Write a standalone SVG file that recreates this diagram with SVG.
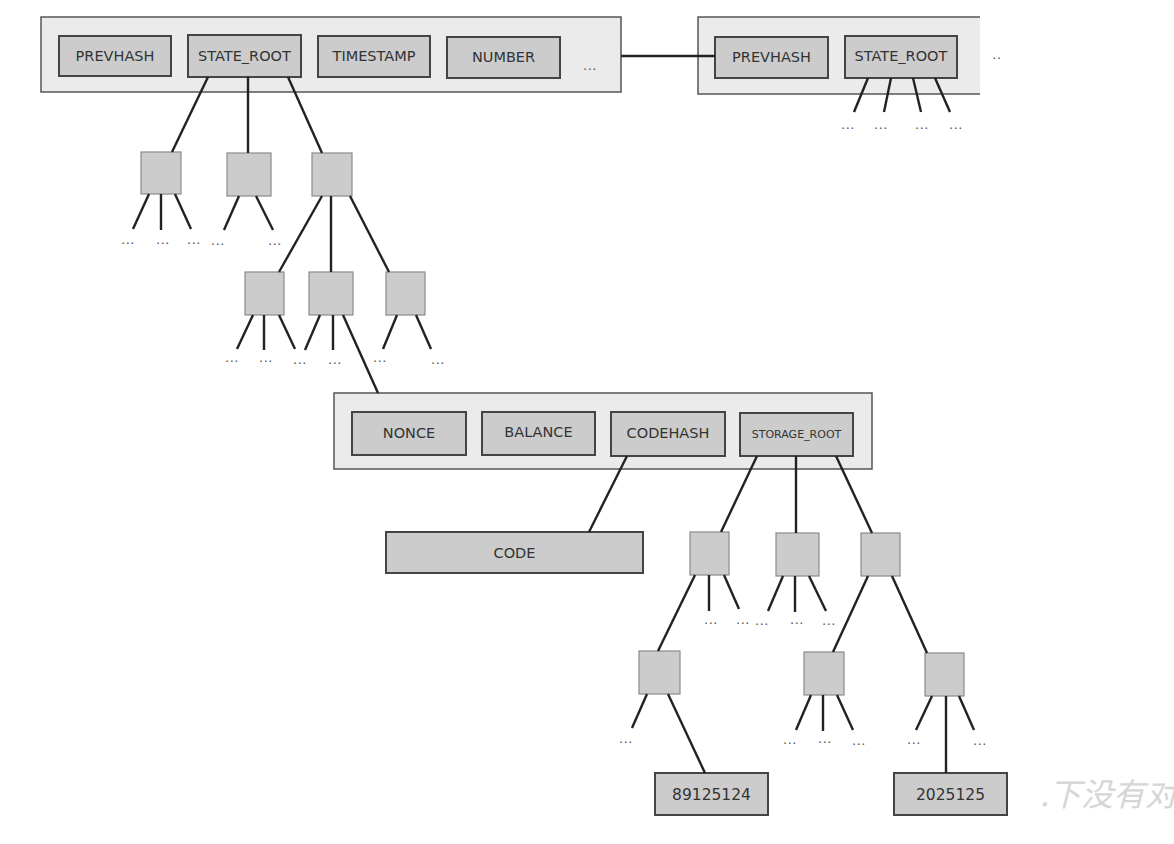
<svg xmlns="http://www.w3.org/2000/svg" width="1174" height="844" viewBox="0 0 1174 844">
<style>
.outer{fill:#ebebeb;stroke:#555;stroke-width:1.5}
.field{fill:#cccccc;stroke:#444;stroke-width:2}
.node{fill:#cccccc;stroke:#8a8a8a;stroke-width:1.2}
.lbl{font-family:"DejaVu Sans",sans-serif;font-size:14.5px;fill:#333;text-anchor:middle}
.small{font-size:11px}
.num{font-size:15.5px}
.dots{font-family:"DejaVu Sans",sans-serif;font-size:13px;fill:#555;text-anchor:middle;letter-spacing:0.5px}
#connectors line{stroke:#222;stroke-width:2.4;stroke-linecap:butt}
</style>
<rect width="1174" height="844" fill="#ffffff"/>

<g id="block1">
  <rect class="outer" x="41" y="17" width="580" height="75"/>
  <rect class="field" x="59" y="36" width="112" height="40"/>
  <text class="lbl" x="115" y="61">PREVHASH</text>
  <rect class="field" x="188" y="35" width="113" height="42"/>
  <text class="lbl" x="244.5" y="61">STATE_ROOT</text>
  <rect class="field" x="318" y="36" width="112" height="41"/>
  <text class="lbl" x="374" y="61">TIMESTAMP</text>
  <rect class="field" x="447" y="37" width="113" height="41"/>
  <text class="lbl" x="503.5" y="62">NUMBER</text>
  <text class="dots" x="590" y="70">...</text>
</g>

<g id="block2">
  <path d="M980,17 H698 V94 H980 Z" fill="#ebebeb" stroke="none"/>
  <path d="M980,17 H698 V94 H980" fill="none" stroke="#555" stroke-width="1.5"/>
  <rect class="field" x="715" y="37" width="113" height="41"/>
  <text class="lbl" x="771.5" y="62">PREVHASH</text>
  <rect class="field" x="845" y="36" width="112" height="42"/>
  <text class="lbl" x="901" y="61">STATE_ROOT</text>
  <text class="dots" x="997" y="59">..</text>
  <text class="dots" x="848" y="129">...</text>
  <text class="dots" x="881" y="129">...</text>
  <text class="dots" x="922" y="129">...</text>
  <text class="dots" x="956" y="129">...</text>
</g>

<g id="stateA">
  <rect class="node" x="141" y="152" width="40" height="42"/>
  <text class="dots" x="128" y="244">...</text>
  <text class="dots" x="163" y="244">...</text>
  <text class="dots" x="194" y="244">...</text>
</g>
<g id="stateB">
  <rect class="node" x="227" y="153" width="44" height="43"/>
  <text class="dots" x="218" y="245">...</text>
  <text class="dots" x="275" y="245">...</text>
</g>
<g id="stateC">
  <rect class="node" x="312" y="153" width="40" height="43"/>
</g>
<g id="stateD">
  <rect class="node" x="245" y="272" width="39" height="43"/>
  <text class="dots" x="232" y="362">...</text>
  <text class="dots" x="266" y="362">...</text>
  <text class="dots" x="300" y="364">...</text>
</g>
<g id="stateE">
  <rect class="node" x="309" y="272" width="44" height="43"/>
  <text class="dots" x="335" y="364">...</text>
</g>
<g id="stateF">
  <rect class="node" x="386" y="272" width="39" height="43"/>
  <text class="dots" x="380" y="362">...</text>
  <text class="dots" x="438" y="364">...</text>
</g>

<g id="account">
  <rect class="outer" x="334" y="393" width="538" height="76"/>
  <rect class="field" x="352" y="412" width="114" height="43"/>
  <text class="lbl" x="409" y="438">NONCE</text>
  <rect class="field" x="482" y="412" width="113" height="43"/>
  <text class="lbl" x="538.5" y="437">BALANCE</text>
  <rect class="field" x="611" y="412" width="114" height="44"/>
  <text class="lbl" x="668" y="438">CODEHASH</text>
  <rect class="field" x="740" y="413" width="113" height="43"/>
  <text class="lbl small" x="796.5" y="438">STORAGE_ROOT</text>
</g>

<g id="code">
  <rect class="field" x="386" y="532" width="257" height="41"/>
  <text class="lbl" x="514.5" y="558">CODE</text>
</g>

<g id="storageG">
  <rect class="node" x="690" y="532" width="39" height="43"/>
  <text class="dots" x="711" y="624">...</text>
  <text class="dots" x="743" y="624">...</text>
</g>
<g id="storageH">
  <rect class="node" x="776" y="533" width="43" height="43"/>
  <text class="dots" x="762" y="625">...</text>
  <text class="dots" x="797" y="624">...</text>
  <text class="dots" x="829" y="625">...</text>
</g>
<g id="storageI">
  <rect class="node" x="861" y="533" width="39" height="43"/>
</g>
<g id="storageJ">
  <rect class="node" x="639" y="651" width="41" height="43"/>
  <text class="dots" x="626" y="743">...</text>
</g>
<g id="storageK">
  <rect class="node" x="804" y="652" width="40" height="43"/>
  <text class="dots" x="790" y="744">...</text>
  <text class="dots" x="825" y="743">...</text>
  <text class="dots" x="859" y="745">...</text>
</g>
<g id="storageL">
  <rect class="node" x="925" y="653" width="39" height="43"/>
  <text class="dots" x="914" y="744">...</text>
  <text class="dots" x="980" y="745">...</text>
</g>

<g id="value1">
  <rect class="field" x="655" y="773" width="113" height="42"/>
  <text class="lbl num" x="711.5" y="800">89125124</text>
</g>
<g id="value2">
  <rect class="field" x="894" y="773" width="113" height="42"/>
  <text class="lbl num" x="950.5" y="800">2025125</text>
</g>

<g id="connectors">
  <line x1="621" y1="56" x2="715" y2="56"/>
  <line x1="868" y1="78" x2="854" y2="112"/>
  <line x1="891" y1="78" x2="884" y2="112"/>
  <line x1="913" y1="78" x2="921" y2="112"/>
  <line x1="935" y1="78" x2="950" y2="112"/>
  <line x1="208" y1="77" x2="172" y2="152"/>
  <line x1="248" y1="77" x2="248" y2="153"/>
  <line x1="288" y1="77" x2="322" y2="153"/>
  <line x1="149" y1="194" x2="133" y2="229"/>
  <line x1="161" y1="194" x2="161" y2="230"/>
  <line x1="175" y1="194" x2="191" y2="229"/>
  <line x1="239" y1="196" x2="224" y2="230"/>
  <line x1="256" y1="196" x2="273" y2="230"/>
  <line x1="322" y1="196" x2="279" y2="272"/>
  <line x1="331" y1="196" x2="331" y2="272"/>
  <line x1="350" y1="196" x2="389" y2="272"/>
  <line x1="253" y1="315" x2="237" y2="349"/>
  <line x1="264" y1="315" x2="264" y2="350"/>
  <line x1="279" y1="315" x2="295" y2="349"/>
  <line x1="320" y1="315" x2="305" y2="350"/>
  <line x1="333" y1="315" x2="333" y2="350"/>
  <line x1="343" y1="315" x2="378" y2="393"/>
  <line x1="397" y1="315" x2="383" y2="349"/>
  <line x1="416" y1="315" x2="431" y2="349"/>
  <line x1="627" y1="456" x2="589" y2="532"/>
  <line x1="757" y1="456" x2="721" y2="532"/>
  <line x1="796" y1="456" x2="796" y2="533"/>
  <line x1="836" y1="456" x2="872" y2="533"/>
  <line x1="695" y1="575" x2="658" y2="651"/>
  <line x1="709" y1="575" x2="709" y2="611"/>
  <line x1="724" y1="575" x2="739" y2="609"/>
  <line x1="783" y1="576" x2="768" y2="611"/>
  <line x1="795" y1="576" x2="795" y2="612"/>
  <line x1="809" y1="576" x2="826" y2="611"/>
  <line x1="868" y1="576" x2="833" y2="652"/>
  <line x1="892" y1="576" x2="927" y2="653"/>
  <line x1="647" y1="694" x2="632" y2="728"/>
  <line x1="668" y1="694" x2="705" y2="773"/>
  <line x1="811" y1="695" x2="796" y2="730"/>
  <line x1="823" y1="695" x2="823" y2="731"/>
  <line x1="837" y1="695" x2="853" y2="730"/>
  <line x1="932" y1="696" x2="916" y2="730"/>
  <line x1="946" y1="696" x2="946" y2="773"/>
  <line x1="959" y1="696" x2="974" y2="730"/>
</g>

<g id="watermark">
  <text x="1040" y="806" font-family="'Noto Sans CJK SC',sans-serif" font-size="32" font-style="italic" fill="#d6d6d6">.下没有对</text>
</g>
</svg>
